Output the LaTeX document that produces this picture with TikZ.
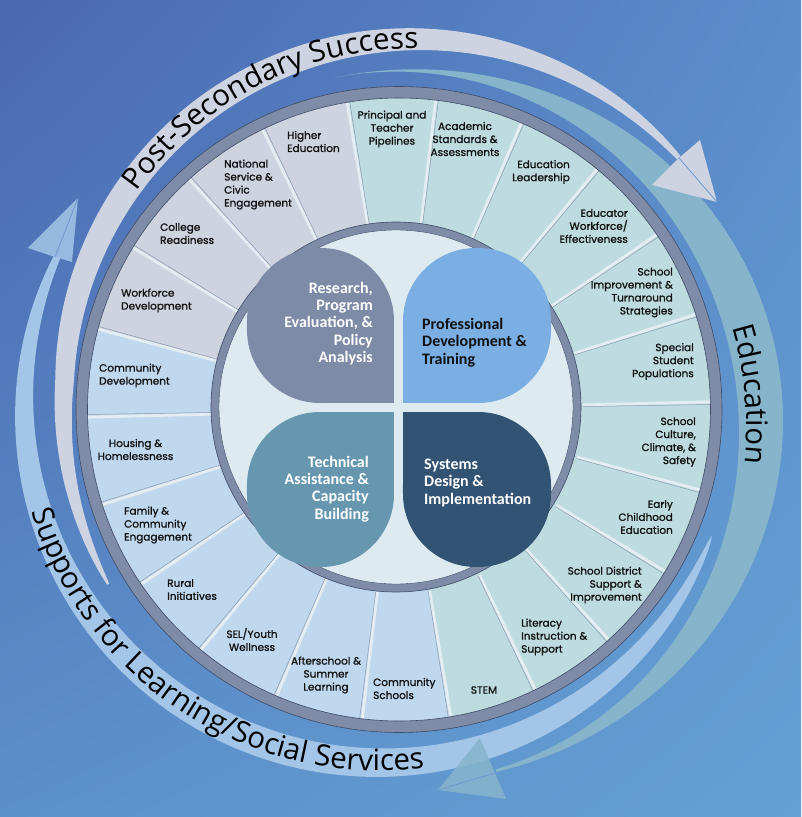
\documentclass[tikz,border=0pt]{standalone}
\usepackage{fontspec}
\setmainfont{Poppins}
\newfontfamily\segfamily[FakeBold=1.2]{Poppins}
\newfontfamily\petalfamily{Carlito}
\newfontfamily\arcfamily{Open Sans}
\usetikzlibrary{decorations.text,shadings}
\definecolor{bgUL}{HTML}{4A67B0}
\definecolor{bgUR}{HTML}{5B8DCB}
\definecolor{bgLL}{HTML}{5C90CA}
\definecolor{bgLR}{HTML}{66A0D4}
\definecolor{grayBand}{HTML}{CDD3E1}
\definecolor{tealBand}{HTML}{86B5CB}
\definecolor{lbBand}{HTML}{A3C6E8}
\definecolor{ringCol}{HTML}{7E8CA8}
\definecolor{ringEdge}{HTML}{3F4C66}
\definecolor{segTeal}{HTML}{BEDCE0}
\definecolor{segBlue}{HTML}{C0D8EE}
\definecolor{segGray}{HTML}{CDD3DF}
\definecolor{sepWhite}{HTML}{E4EEF2}
\definecolor{sepGray}{HTML}{8C9BAE}
\definecolor{innerBg}{HTML}{DDEBF1}
\definecolor{petR}{HTML}{7D8BA6}
\definecolor{petP}{HTML}{7BAFE4}
\definecolor{petT}{HTML}{6797AF}
\definecolor{petS}{HTML}{325373}
\definecolor{labelCol}{HTML}{111111}
\definecolor{creaseCol}{HTML}{6F98D0}
\newcommand\segfont{\segfamily\fontsize{10.5}{13}\selectfont}
\newcommand\petfont{\petalfamily\bfseries\fontsize{16}{17.3}\selectfont}
\newcommand\arctxt{\arcfamily\fontsize{29.5}{30}\selectfont}
\begin{document}
\begin{tikzpicture}[x=1pt,y=1pt,
  declare function={
    sg(\t)=max(sin((\t-38)/174*180),0);
    rg(\t)=351+25.5*cos(\t-48)+0.35*max(0,\t-175);
    tg(\t)=26*(0.4*sg(\t)+0.6*sqrt(sg(\t)));
    st(\t)=max(sin((103-\t)/193*180),0);
    rt(\t)=356+18*cos(\t+72);
    tt(\t)=45*st(\t)*st(\t);
    sl(\t)=max(sin((-22-\t)/188*180),0);
    rl(\t)=356+19*cos(\t-170);
    tl(\t)=30*(0.4*sl(\t)+0.6*sqrt(sl(\t)));
  },
  seglabel/.style={font=\segfont, text=labelCol, inner sep=0pt},
  petaltext/.style={font=\petfont, inner sep=0pt},
  sepw/.style={draw=sepWhite, line width=2.8pt},
  sepg/.style={draw=sepGray, line width=0.5pt},
  ringline/.style={draw=ringEdge, line width=0.6pt},
  crease/.style={draw=creaseCol, line width=0.8pt},
  arctext/.style={decorate, decoration={text along path, text align=center, text={|\arctxt|#1}}}
]
\useasboundingbox (-399,-407.5) rectangle (402,409.5);
% background
\shade[upper left=bgUL, upper right=bgUR, lower left=bgLL, lower right=bgLR]
  (-399,-407.5) rectangle (402,409.5);

% outer bands
\fill[lbBand] plot[domain=-22:-204, samples=160] (\x:{rl(\x)+tl(\x)/2})
  -- plot[domain=-204:-22, samples=160] (\x:{rl(\x)-tl(\x)/2}) -- cycle;
\fill[tealBand] plot[domain=101:-75, samples=160] (\x:{rt(\x)+tt(\x)/2})
  -- plot[domain=-75:101, samples=160] (\x:{rt(\x)-tt(\x)/2}) -- cycle;
\fill[grayBand] plot[domain=42:211, samples=160] (\x:{rg(\x)+tg(\x)/2})
  -- plot[domain=211:42, samples=160] (\x:{rg(\x)-tg(\x)/2}) -- cycle;

% segments of the wheel
\foreach \i in {0,...,21}{
  \pgfmathsetmacro\sa{99.6-16.3636*\i}
  \pgfmathsetmacro\sb{\sa-16.3636}
  \ifnum\i<11 \def\segc{segTeal}\else\ifnum\i<18 \def\segc{segBlue}\else\def\segc{segGray}\fi\fi
  \fill[\segc] (\sa:180) arc[start angle=\sa, end angle=\sb, radius=180]
    -- (\sb:318) arc[start angle=\sb, end angle=\sa, radius=318] -- cycle;
}
\foreach \k in {0,...,21}{
  \pgfmathsetmacro\sa{99.6-16.3636*\k}
  \pgfmathsetmacro\sgg{\sa-0.5}
  \draw[sepw] (\sa:184) -- (\sa:312);
  \draw[sepg] (\sgg:184) -- (\sgg:312);
}
% outer ring
\fill[ringCol, even odd rule] (0,0) circle (323) (0,0) circle (311.5);
\draw[ringline] (0,0) circle (323);
\draw[ringline] (0,0) circle (311.5);
% inner circle
\fill[ringCol] (-3,2.5) circle (185);
\draw[ringline] (-3,2.5) circle (185);
\fill[innerBg] (-3,2.5) circle (177);
\draw[ringline, line width=0.4pt] (-3,2.5) circle (177);

% petals
\fill[petR, rounded corners=73pt] (-152,6.5) rectangle (-5,161.5);
\fill[petR] (-78,6.5) rectangle (-5,79.5);
\fill[petP, rounded corners=73pt] (4,6.5) rectangle (152,161.5);
\fill[petP] (4,6.5) rectangle (77,79.5);
\fill[petT, rounded corners=73pt] (-152,-157.5) rectangle (-5,-2.5);
\fill[petT] (-78,-75.5) rectangle (-5,-2.5);
\fill[petS, rounded corners=73pt] (4,-157.5) rectangle (152,-2.5);
\fill[petS] (4,-75.5) rectangle (77,-2.5);

\node[petaltext, text=white, align=right, anchor=east] (research) at (-26,86)
  {Research,\\Program\\Evaluation, \&\\Policy\\Analysis};
\node[petaltext, text=labelCol, align=left, anchor=west] (profdev) at (23,67)
  {Professional\\Development \&\\Training};
\node[petaltext, text=white, align=right, anchor=east] (techassist) at (-30,-79.5)
  {Technical\\Assistance \&\\Capacity\\Building};
\node[petaltext, text=white, align=left, anchor=west] (systems) at (25,-73.5)
  {Systems\\Design \&\\Implementation};

% segment labels
\node[seglabel, align=center] (l0) at (-7,280.5) {Principal and\\Teacher\\Pipelines};
\node[seglabel, align=center] (l1) at (66,270.5) {Academic\\Standards \&\\Assessments};
\node[seglabel, align=right, anchor=east] (l2) at (171,237.5) {Education\\Leadership};
\node[seglabel, align=right, anchor=east] (l3) at (229,183.5) {Educator\\Workforce/\\Effectiveness};
\node[seglabel, align=right, anchor=east] (l4) at (274,117) {School\\Improvement \&\\Turnaround\\Strategies};
\node[seglabel, align=right, anchor=east] (l5) at (295,48) {Special\\Student\\Populations};
\node[seglabel, align=right, anchor=east] (l6) at (297,-32.5) {School\\Culture,\\Climate, \&\\Safety};
\node[seglabel, align=right, anchor=east] (l7) at (274,-107.5) {Early\\Childhood\\Education};
\node[seglabel, align=right, anchor=east] (l8) at (243,-175.5) {School District\\Support \&\\Improvement};
\node[seglabel, align=left, anchor=west] (l9) at (122,-227.5) {Literacy\\Instruction \&\\Support};
\node[seglabel, align=center] (l10) at (85,-280.5) {STEM};
\node[seglabel, align=left, anchor=west] (l11) at (-26,-279) {Community\\Schools};
\node[seglabel, align=center] (l12) at (-73,-265.5) {Afterschool \&\\Summer\\Learning};
\node[seglabel, align=center] (l13) at (-147,-230) {SEL/Youth\\Wellness};
\node[seglabel, align=left, anchor=west] (l14) at (-232,-180) {Rural\\Initiatives};
\node[seglabel, align=left, anchor=west] (l15) at (-275,-115.5) {Family \&\\Community\\Engagement};
\node[seglabel, align=center] (l16) at (-263.5,-40) {Housing \&\\Homelessness};
\node[seglabel, align=left, anchor=west] (l17) at (-300,34) {Community\\Development};
\node[seglabel, align=left, anchor=west] (l18) at (-278,109) {Workforce\\Development};
\node[seglabel, align=left, anchor=west] (l19) at (-239,176) {College\\Readiness};
\node[seglabel, align=left, anchor=west] (l20) at (-175,225) {National\\Service \&\\Civic\\Engagement};
\node[seglabel, align=left, anchor=west] (l21) at (-112,268) {Higher\\Education};

% arrowheads
\coordinate (lbTip) at (-321,211.5);
\coordinate (lbWa) at (-371,161.5);
\coordinate (lbWb) at (-327,147.5);
\coordinate (lbJoint) at (-344,152.5);
\fill[lbBand, opacity=0.85] (lbJoint) -- (lbWa) -- (lbTip) -- (lbWb) -- cycle;
\draw[crease] (lbJoint) -- (lbTip);

\coordinate (tTip) at (39,-380.5);
\coordinate (tWa) at (81,-328.5);
\coordinate (tWb) at (107,-389.5);
\coordinate (tJoint) at (96,-363.5);
\fill[tealBand, opacity=0.85] (tJoint) -- (tWa) -- (tTip) -- (tWb) -- cycle;
\draw[crease] (tJoint) -- (tTip);

\coordinate (gTip) at (318,207.5);
\coordinate (gWa) at (253,224.5);
\coordinate (gWb) at (301,269.5);
\coordinate (gJoint) at (280,251.5);
\fill[grayBand] (gJoint) -- (gWa) -- (gTip) -- (gWb) -- cycle;
\draw[crease] (gJoint) -- (gTip);

% arc texts
\path[arctext={Post-Secondary Success}] plot[domain=147:80.6, samples=80] (\x:{rg(\x)-9});
\path[arctext={Education}] plot[domain=40:-34, samples=80] (\x:{rt(\x)-14.5});
\path[arctext={Supports for Learning/Social Services}] plot[domain=-170:-80, samples=100] (\x:{rl(\x)+8});
\end{tikzpicture}
\end{document}
